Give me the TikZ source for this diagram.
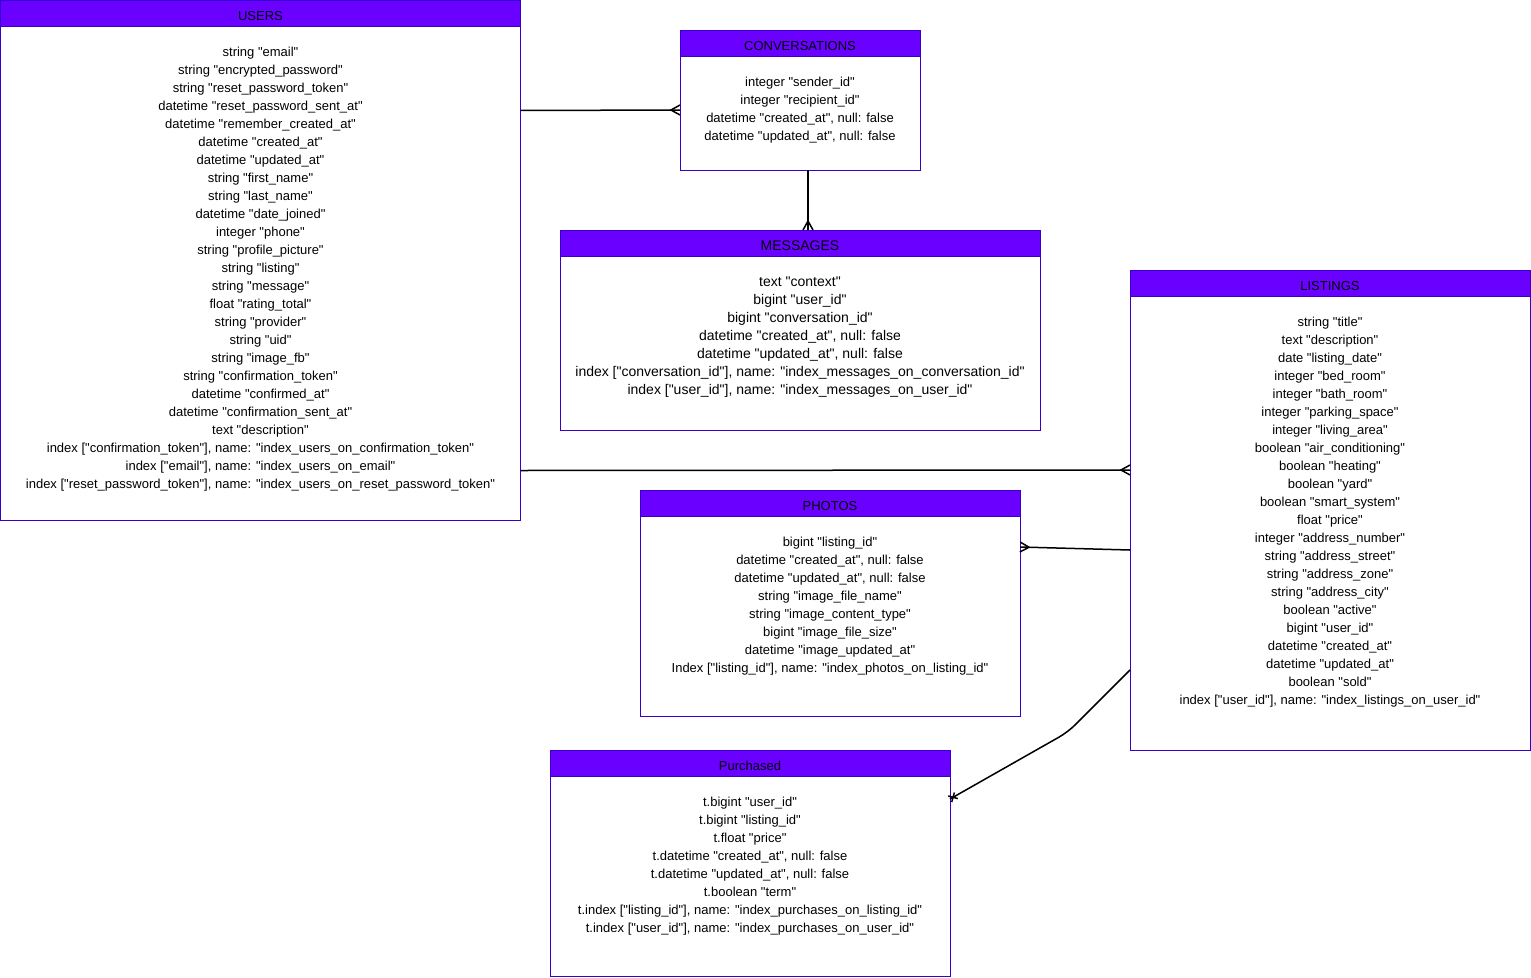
\documentclass[tikz,border=0pt]{standalone}
\usepackage{fontspec}
\setmainfont{Liberation Sans}[Ligatures=TeXOff]
\usetikzlibrary{calc,arrows.meta}

\definecolor{hdrfill}{HTML}{6A00FF}
\definecolor{hdrline}{HTML}{3700CC}

% crow's foot ("many") end of an ER relation
\pgfdeclarearrow{
  name = CrowFoot,
  setup code = {
    \pgfarrowssettipend{0pt}
    \pgfarrowssetlineend{0pt}
    \pgfarrowssetbackend{-9pt}
    \pgfarrowshullpoint{0pt}{5pt}
    \pgfarrowshullpoint{0pt}{-5pt}
    \pgfarrowshullpoint{-9pt}{0pt}
  },
  drawing code = {
    \pgfsetdash{}{0pt}
    \pgfpathmoveto{\pgfqpoint{0pt}{5pt}}
    \pgfpathlineto{\pgfqpoint{-9pt}{0pt}}
    \pgfpathlineto{\pgfqpoint{0pt}{-5pt}}
    \pgfusepathqstroke
  }
}

% small cross at the end of a relation
\pgfdeclarearrow{
  name = XMark,
  setup code = {
    \pgfarrowssettipend{0pt}
    \pgfarrowssetlineend{0pt}
    \pgfarrowssetbackend{-7pt}
    \pgfarrowshullpoint{0pt}{3.5pt}
    \pgfarrowshullpoint{-7pt}{-3.5pt}
  },
  drawing code = {
    \pgfsetdash{}{0pt}
    \pgfpathmoveto{\pgfqpoint{-7pt}{3.5pt}}
    \pgfpathlineto{\pgfqpoint{0pt}{-3.5pt}}
    \pgfpathmoveto{\pgfqpoint{-7pt}{-3.5pt}}
    \pgfpathlineto{\pgfqpoint{0pt}{3.5pt}}
    \pgfusepathqstroke
  }
}

\tikzset{
  tablebody/.style={draw=hdrline, line width=1pt, fill=white, rectangle,
    anchor=north west, inner sep=0pt, outer sep=0pt},
  tablehead/.style={draw=hdrline, line width=1pt, fill=hdrfill, rectangle,
    anchor=north west, inner sep=0pt, outer sep=0pt, minimum height=26pt,
    text height=14pt, text depth=0pt,
    font=\fontsize{13}{15}\selectfont, text=black},
  tablefields/.style={anchor=north, align=center, inner sep=0pt,
    font=\fontsize{13}{18}\selectfont, text=black},
  largetext/.style={font=\fontsize{14}{18}\selectfont},
  relation/.style={draw=black, line width=1.5pt},
  many/.style={-CrowFoot},
  onecross/.style={-XMark},
}

% \erentity[text style]{name}{x}{y}{width}{height}{title}{fields}
\newcommand{\erentity}[8][]{%
  \node[tablebody, minimum width=#5pt, minimum height=#6pt] (#2) at (#3,#4) {};
  \node[tablehead, minimum width=#5pt, #1] (#2-head) at (#3,#4) {#7};
  \node[tablefields, #1] (#2-fields) at ($(#2.north)+(0,46.5)$) {#8};
}

\begin{document}
\begin{tikzpicture}[x=1pt, y=-1pt]
\useasboundingbox (0,0) rectangle (1531,977);

\erentity{users}{0.5}{0.5}{520}{520}{USERS}{%
string "email"\\
string "encrypted\_password"\\
string "reset\_password\_token"\\
datetime "reset\_password\_sent\_at"\\
datetime "remember\_created\_at"\\
datetime "created\_at"\\
datetime "updated\_at"\\
string "first\_name"\\
string "last\_name"\\
datetime "date\_joined"\\
integer "phone"\\
string "profile\_picture"\\
string "listing"\\
string "message"\\
float "rating\_total"\\
string "provider"\\
string "uid"\\
string "image\_fb"\\
string "confirmation\_token"\\
datetime "confirmed\_at"\\
datetime "confirmation\_sent\_at"\\
text "description"\\
index ["confirmation\_token"], name: "index\_users\_on\_confirmation\_token"\\
index ["email"], name: "index\_users\_on\_email"\\
index ["reset\_password\_token"], name: "index\_users\_on\_reset\_password\_token"}

\erentity{conv}{680}{30}{240}{140}{CONVERSATIONS}{%
integer "sender\_id"\\
integer "recipient\_id"\\
datetime "created\_at", null: false\\
datetime "updated\_at", null: false}

\erentity[largetext]{msg}{560}{230}{480}{200}{MESSAGES}{%
text "context"\\
bigint "user\_id"\\
bigint "conversation\_id"\\
datetime "created\_at", null: false\\
datetime "updated\_at", null: false\\
index ["conversation\_id"], name: "index\_messages\_on\_conversation\_id"\\
index ["user\_id"], name: "index\_messages\_on\_user\_id"}

\erentity{list}{1130}{270}{400}{480}{LISTINGS}{%
string "title"\\
text "description"\\
date "listing\_date"\\
integer "bed\_room"\\
integer "bath\_room"\\
integer "parking\_space"\\
integer "living\_area"\\
boolean "air\_conditioning"\\
boolean "heating"\\
boolean "yard"\\
boolean "smart\_system"\\
float "price"\\
integer "address\_number"\\
string "address\_street"\\
string "address\_zone"\\
string "address\_city"\\
boolean "active"\\
bigint "user\_id"\\
datetime "created\_at"\\
datetime "updated\_at"\\
boolean "sold"\\
index ["user\_id"], name: "index\_listings\_on\_user\_id"}

\erentity{photos}{640}{490}{380}{226}{PHOTOS}{%
bigint "listing\_id"\\
datetime "created\_at", null: false\\
datetime "updated\_at", null: false\\
string "image\_file\_name"\\
string "image\_content\_type"\\
bigint "image\_file\_size"\\
datetime "image\_updated\_at"\\
Index ["listing\_id"], name: "index\_photos\_on\_listing\_id"}

\erentity{purch}{550}{750}{400}{226}{Purchased}{%
t.bigint "user\_id"\\
t.bigint "listing\_id"\\
t.float "price"\\
t.datetime "created\_at", null: false\\
t.datetime "updated\_at", null: false\\
t.boolean "term"\\
t.index ["listing\_id"], name: "index\_purchases\_on\_listing\_id"\\
t.index ["user\_id"], name: "index\_purchases\_on\_user\_id"}

% relations
\draw[relation, many] ($(users.north east)+(0,110)$) -- ($(conv.north west)+(0,80)$);
\draw[relation, many] ($(conv.south west)+(128,0)$) -- ($(msg.north west)+(248,0)$);
\draw[relation, many] ($(users.north east)+(0,470)$) -- ($(list.north west)+(0,200)$);
\draw[relation, many] ($(list.north west)+(0,280)$) -- ($(photos.north east)+(0,57)$);
\coordinate (bend) at (1068,732);
\draw[relation, onecross, rounded corners=10pt]
  ($(list.north west)+(0,400)$) -- (bend) -- ($(purch.north east)+(0,49)$);
\end{tikzpicture}
\end{document}
